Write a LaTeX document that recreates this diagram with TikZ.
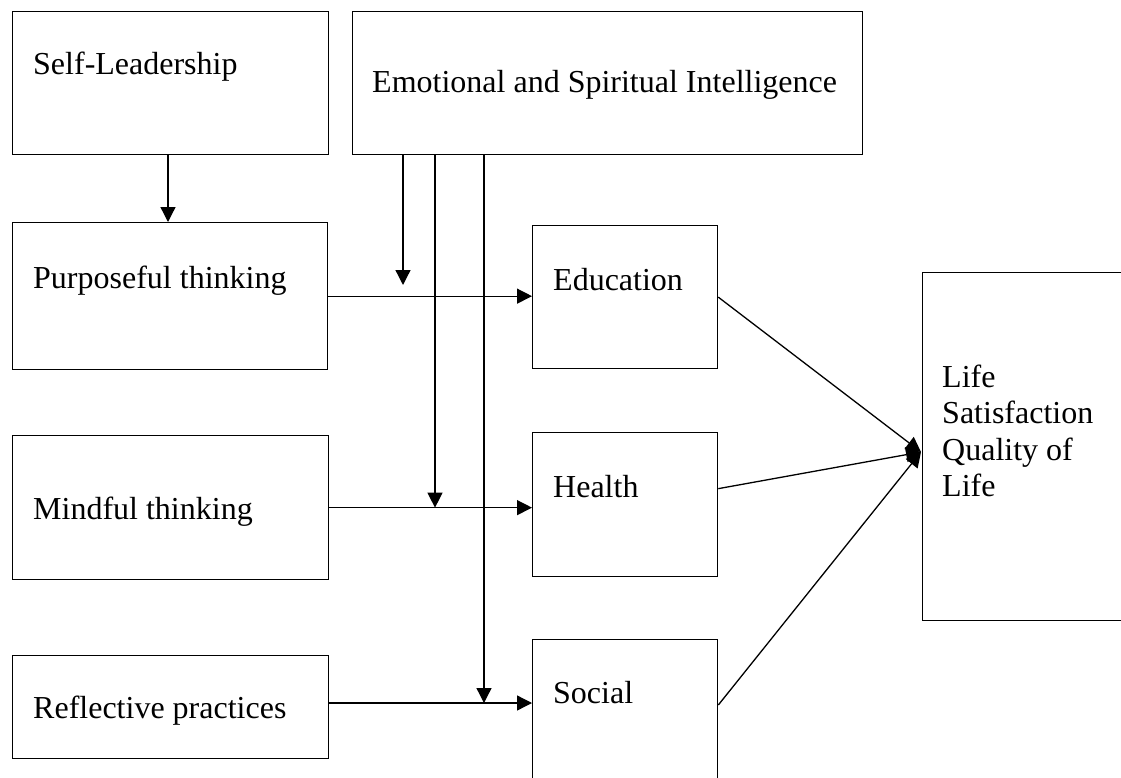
\documentclass[tikz,border=0pt]{standalone}
\usepackage{fontspec}
\setmainfont{Liberation Serif}
\usetikzlibrary{arrows.meta,calc}

\begin{document}
\begin{tikzpicture}[x=1pt,y=-1pt,
  box/.style={draw,line width=1.3pt,inner sep=0pt,anchor=north west},
  lbl/.style={anchor=base west,inner sep=0pt,font=\fontsize{32}{36.6}\selectfont},
  link/.style={line width=1.3pt},
  arr/.style={link,-{Triangle[width=15pt,length=15pt]}}]

\clip (0,0) rectangle (1121,778);

% boxes
\node[box,minimum width=316pt,minimum height=143pt] (sl)  at (12,11)  {};
\node[box,minimum width=510pt,minimum height=143pt] (emo) at (352,11) {};
\node[box,minimum width=315pt,minimum height=147pt] (pt)  at (12,222) {};
\node[box,minimum width=316pt,minimum height=144pt] (mt)  at (12,435) {};
\node[box,minimum width=316pt,minimum height=103pt] (rp)  at (12,655) {};
\node[box,minimum width=185pt,minimum height=143pt] (edu) at (532,225) {};
\node[box,minimum width=185pt,minimum height=144pt] (hl)  at (532,432) {};
\node[box,minimum width=185pt,minimum height=160pt] (so)  at (532,639) {};
\node[box,minimum width=230pt,minimum height=348pt] (life) at (922,272) {};

% labels
\node[lbl] (tsl)  at (33,75)   {Self-Leadership};
\node[lbl] (temo) at (372,93)  {Emotional and Spiritual Intelligence};
\node[lbl] (tpt)  at (33,288)  {Purposeful thinking};
\node[lbl] (tmt)  at (33,519)  {Mindful thinking};
\node[lbl] (trp)  at (33,718)  {Reflective practices};
\node[lbl] (tedu) at (553,290) {Education};
\node[lbl] (thl)  at (553,497) {Health};
\node[lbl] (tso)  at (553,703) {Social};
\node[lbl] (tlife) at (942,387) {\begin{tabular}[t]{@{}l@{}}Life\\Satisfaction\\Quality of\\Life\end{tabular}};

% main paths
\draw[arr] (sl.south -| 168,0) -- (pt.north -| 168,0);
\draw[arr] (pt.east) -- (pt.east -| edu.west);
\draw[arr] (mt.east) -- (mt.east -| hl.west);
\draw[arr] (rp.east |- 0,703) -- (edu.west |- 0,703);

% moderating paths from emotional and spiritual intelligence
\coordinate (m1) at (403,285);
\coordinate (m2) at (435,0);
\coordinate (m3) at (484,0);
\draw[arr] (m1 |- emo.south) -- (m1);
\draw[arr] (m2 |- emo.south) -- (m2 |- mt.east);
\draw[arr] (m3 |- emo.south) -- (m3 |- 0,703);

% paths into life satisfaction
\coordinate (conv) at (921,452);
\draw[arr] (edu.east) -- (conv);
\draw[arr] ($(hl.east)+(0,-16)$) -- (conv);
\draw[arr] (so.east |- 0,705) -- (conv);
\end{tikzpicture}
\end{document}
